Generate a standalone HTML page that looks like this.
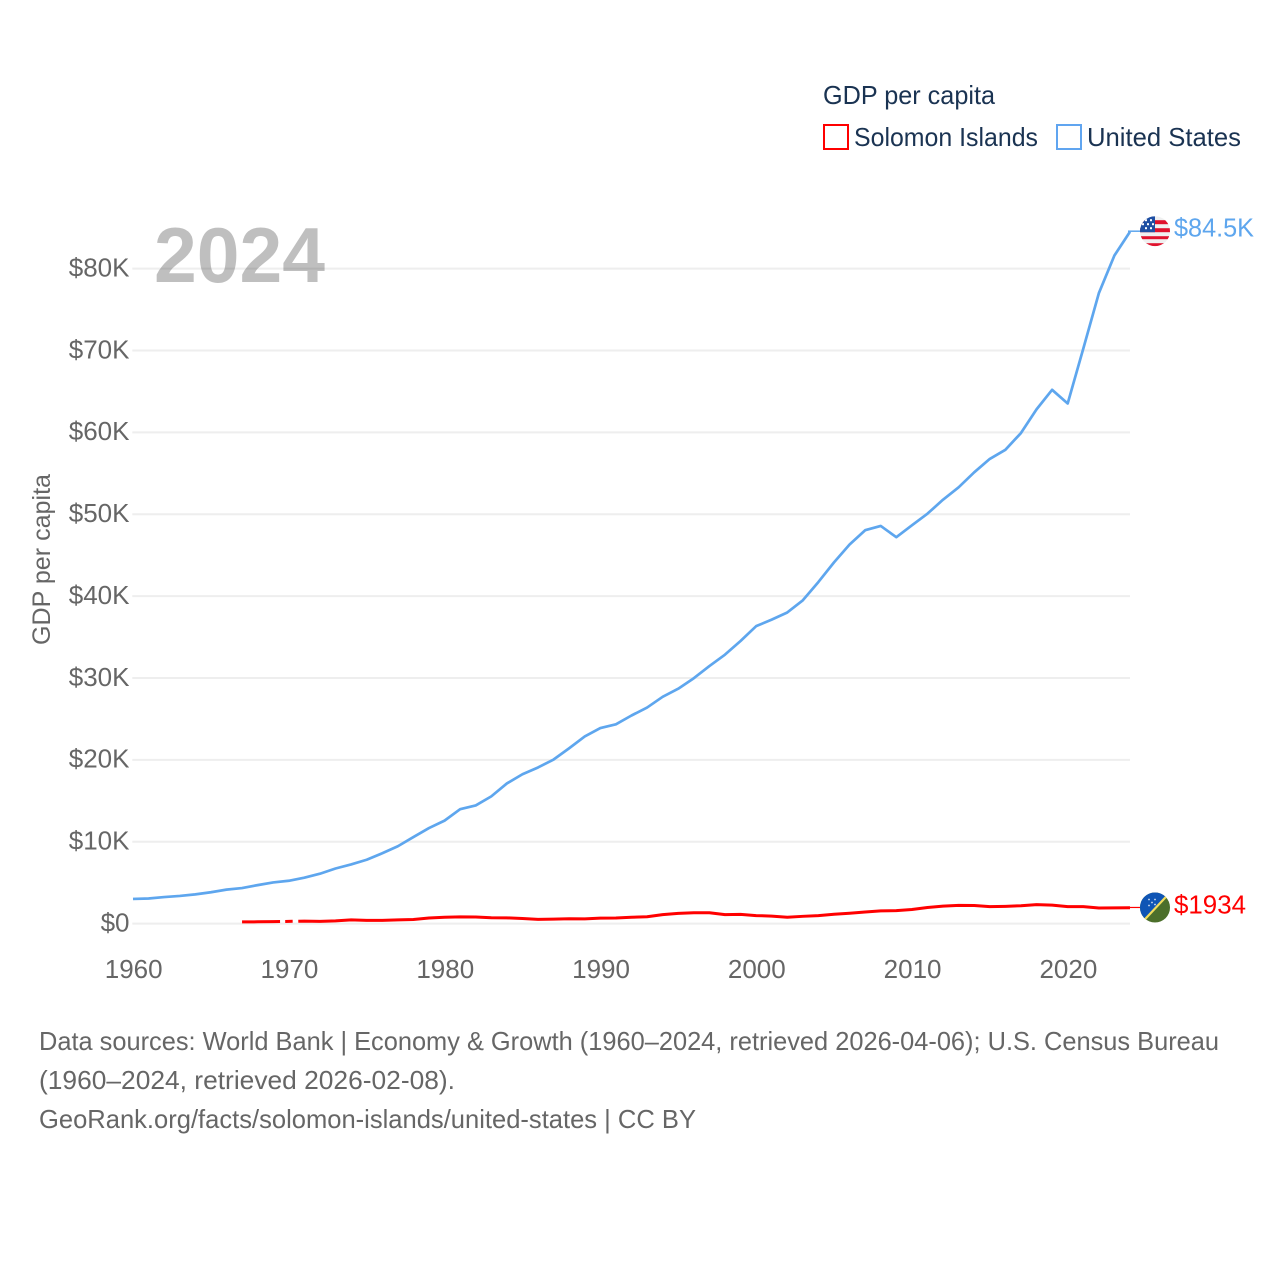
<!DOCTYPE html>
<html lang="en">
<head>
<meta charset="utf-8">
<title>GDP per capita: Solomon Islands and United States</title>
<style>
html,body{margin:0;padding:0;background:#fff;}
svg{display:block;font-family:"Liberation Sans",sans-serif;}
</style>
</head>
<body>
<svg id="chart" xmlns="http://www.w3.org/2000/svg" width="1280" height="1280" viewBox="0 0 1280 1280">
  <defs>
    <clipPath id="us-clip"><circle cx="15" cy="15" r="15"/></clipPath>
    <clipPath id="sb-clip"><circle cx="15" cy="15" r="15"/></clipPath>
  </defs>
  <rect x="0" y="0" width="1280" height="1280" fill="#ffffff"/>

  <g>
    <text x="823" y="104" font-size="26" fill="#1a3352" textLength="172" lengthAdjust="spacingAndGlyphs">GDP per capita</text>
    <g>
      <rect x="824" y="125" width="24" height="24" fill="#ffffff" stroke="#ff0000" stroke-width="2"/>
      <text x="854" y="146" font-size="26" fill="#1a3352" textLength="184" lengthAdjust="spacingAndGlyphs">Solomon Islands</text>
    </g>
    <g>
      <rect x="1057" y="125" width="24" height="24" fill="#ffffff" stroke="#60a5f0" stroke-width="2"/>
      <text x="1087" y="146" font-size="26" fill="#1a3352" textLength="154" lengthAdjust="spacingAndGlyphs">United States</text>
    </g>
  </g>

  <g id="grid"></g>
  <g id="y-ticks"></g>
  <g id="x-ticks"></g>
  <text transform="translate(50,645) rotate(-90)" font-size="25" fill="#666666" textLength="171" lengthAdjust="spacingAndGlyphs">GDP per capita</text>

  <g id="series"></g>

  <text x="154" y="282" font-size="78" font-weight="700" fill="#000000" fill-opacity="0.25" textLength="171" lengthAdjust="spacingAndGlyphs">2024</text>

  <g id="flag-us">
    <g clip-path="url(#us-clip)">
      <rect width="30" height="30" fill="#f0f0f0"/>
      <rect y="4" width="30" height="4" fill="#e0122d"/>
      <rect y="12" width="30" height="4" fill="#e0122d"/>
      <rect y="20" width="30" height="3" fill="#e0122d"/>
      <rect y="27" width="30" height="3" fill="#e0122d"/>
      <rect width="15" height="16" fill="#1f4fa3"/>
      <g fill="#ffffff">
        <rect x="5" y="3" width="2" height="2"/><rect x="10" y="3" width="2" height="2"/>
        <rect x="2" y="7" width="2" height="2"/><rect x="7" y="7" width="2" height="2"/><rect x="12" y="7" width="2" height="2"/>
        <rect x="5" y="11" width="2" height="2"/><rect x="10" y="11" width="2" height="2"/>
      </g>
    </g>
  </g>
  <g id="flag-sb">
    <g clip-path="url(#sb-clip)">
      <rect width="30" height="30" fill="#4c6f2b"/>
      <polygon points="0,0 30,0 0,30" fill="#0f55b5"/>
      <line x1="1" y1="31" x2="31" y2="-1" stroke="#f2dd5c" stroke-width="2.2"/>
      <g fill="#ffffff" fill-opacity="0.8">
        <circle cx="9" cy="7" r="0.9"/><circle cx="15" cy="7" r="0.9"/><circle cx="12" cy="10" r="0.9"/><circle cx="9" cy="13" r="0.9"/><circle cx="15" cy="12" r="0.9"/>
      </g>
    </g>
  </g>
  <g id="end-labels"></g>

  <g font-size="26" fill="#666666">
    <text x="39" y="1050" textLength="1180" lengthAdjust="spacingAndGlyphs">Data sources: World Bank | Economy &amp; Growth (1960–2024, retrieved 2026-04-06); U.S. Census Bureau</text>
    <text x="39" y="1089" textLength="416" lengthAdjust="spacingAndGlyphs">(1960–2024, retrieved 2026-02-08).</text>
    <text x="39" y="1128" textLength="657" lengthAdjust="spacingAndGlyphs">GeoRank.org/facts/solomon-islands/united-states | CC BY</text>
  </g>
</svg>

<script>
// Chart data (GDP per capita, thousands of US dollars)
const usYears = [1960,1961,1962,1963,1964,1965,1966,1967,1968,1969,1970,1971,1972,1973,1974,1975,1976,1977,1978,1979,1980,1981,1982,1983,1984,1985,1986,1987,1988,1989,1990,1991,1992,1993,1994,1995,1996,1997,1998,1999,2000,2001,2002,2003,2004,2005,2006,2007,2008,2009,2010,2011,2012,2013,2014,2015,2016,2017,2018,2019,2020,2021,2022,2023,2024];
const usValues = [3.01,3.07,3.24,3.38,3.57,3.83,4.15,4.34,4.70,5.03,5.23,5.61,6.09,6.73,7.23,7.80,8.59,9.45,10.57,11.67,12.58,13.98,14.43,15.54,17.12,18.24,19.07,20.04,21.42,22.86,23.89,24.34,25.42,26.39,27.70,28.69,29.97,31.46,32.85,34.52,36.33,37.13,38.00,39.49,41.73,44.12,46.30,48.05,48.57,47.20,48.65,50.07,51.78,53.29,55.12,56.76,57.87,59.92,62.81,65.20,63.53,70.22,77.00,81.60,84.50];

// Solomon Islands has breaks in the drawn line around 1970 (null = gap)
const sbYears = [1967,1968,1969,1969.44,null,1969.77,1970,1970.25,null,1970.61,1971,1972,1973,1974,1975,1976,1977,1978,1979,1980,1981,1982,1983,1984,1985,1986,1987,1988,1989,1990,1991,1992,1993,1994,1995,1996,1997,1998,1999,2000,2001,2002,2003,2004,2005,2006,2007,2008,2009,2010,2011,2012,2013,2014,2015,2016,2017,2018,2019,2020,2021,2022,2023,2024];
const sbValues = [0.21,0.22,0.24,0.25,null,0.26,0.27,0.28,null,0.29,0.30,0.27,0.33,0.45,0.40,0.40,0.45,0.50,0.68,0.78,0.82,0.80,0.72,0.70,0.62,0.52,0.54,0.60,0.57,0.67,0.68,0.77,0.84,1.10,1.25,1.33,1.32,1.10,1.13,0.98,0.92,0.78,0.89,0.98,1.14,1.26,1.42,1.56,1.58,1.72,1.97,2.13,2.23,2.21,2.07,2.11,2.18,2.32,2.26,2.08,2.07,1.91,1.92,1.934];

const yTickValues = [0,10,20,30,40,50,60,70,80];
const yTickLabels = ["$0","$10K","$20K","$30K","$40K","$50K","$60K","$70K","$80K"];
const xTickValues = [1960,1970,1980,1990,2000,2010,2020];
const xTickLabels = ["1960","1970","1980","1990","2000","2010","2020"];
const usEndLabel = "$84.5K";
const sbEndLabel = "$1934";

// Axis functions
const xScale = function (year) { return 133 + (year - 1960) * 15.578; };
const yScale = function (value) { return 923.6 - value * 8.187; };

const NS = 'http://www.w3.org/2000/svg';
const BLUE = '#5ea6ee';
const RED = '#ff0000';

function make(tag, attrs, parent) {
  const el = document.createElementNS(NS, tag);
  for (const k in attrs) { el.setAttribute(k, attrs[k]); }
  parent.appendChild(el);
  return el;
}

// Gridlines and y tick labels
const gridGroup = document.getElementById('grid');
const yTickGroup = document.getElementById('y-ticks');
yTickValues.forEach(function (v, i) {
  const gridline = make('line', {x1: 132.3, x2: 1130, y1: yScale(v), y2: yScale(v), stroke: '#eeeeee', 'stroke-width': 2}, gridGroup);
  
  
  const label = make('text', {x: 129.5, y: yScale(v) + 7.8, 'text-anchor': 'end', 'font-size': 26, fill: '#666666'}, yTickGroup);
  label.textContent = yTickLabels[i];
  
  
});

// X tick labels
const xTickGroup = document.getElementById('x-ticks');
xTickValues.forEach(function (v, i) {
  const label = make('text', {x: xScale(v) + 0.7, y: 978, 'text-anchor': 'middle', 'font-size': 26, fill: '#666666'}, xTickGroup);
  label.textContent = xTickLabels[i];
  
  
});

// Build an SVG path, breaking at null values
function linePath(years, values) {
  let d = '';
  let pen = false;
  years.forEach(function (yr, i) {
    const v = values[i];
    if (yr === null || v === null) { pen = false; return; }
    d += (pen ? 'L' : 'M') + xScale(yr).toFixed(2) + ' ' + yScale(v).toFixed(2);
    pen = true;
  });
  return d;
}

// Series lines
const seriesGroup = document.getElementById('series');
const sbLine = make('path', {d: linePath(sbYears, sbValues), fill: 'none', stroke: RED, 'stroke-width': 3, 'stroke-linejoin': 'round'}, seriesGroup);


const usLine = make('path', {d: linePath(usYears, usValues), fill: 'none', stroke: BLUE, 'stroke-width': 2.7, 'stroke-linejoin': 'round'}, seriesGroup);



// Connectors, flags and end labels follow the final values
const lastUs = usValues[usValues.length - 1];
const lastSb = sbValues[sbValues.length - 1];
const usEndY = yScale(lastUs) - 0.6;
const sbEndY = yScale(lastSb) - 0.3;

const usConnector = make('line', {x1: xScale(2024) - 2, x2: 1141, y1: usEndY, y2: usEndY, stroke: BLUE, 'stroke-width': 1.5}, seriesGroup);


const sbConnector = make('line', {x1: xScale(2024), x2: 1141, y1: sbEndY, y2: sbEndY, stroke: RED, 'stroke-width': 1.2}, seriesGroup);



document.getElementById('flag-us').setAttribute('transform', 'translate(1140,' + (usEndY - 15) + ')');
document.getElementById('flag-sb').setAttribute('transform', 'translate(1140,' + (sbEndY - 15) + ')');

const endGroup = document.getElementById('end-labels');
const usEnd = make('text', {x: 1174, y: usEndY + 5.5, 'font-size': 26, fill: BLUE, textLength: 80, lengthAdjust: 'spacingAndGlyphs'}, endGroup);
usEnd.textContent = usEndLabel;


const sbEnd = make('text', {x: 1174, y: sbEndY + 5.8, 'font-size': 26, fill: RED, textLength: 72, lengthAdjust: 'spacingAndGlyphs'}, endGroup);
sbEnd.textContent = sbEndLabel;


</script>
</body>
</html>
